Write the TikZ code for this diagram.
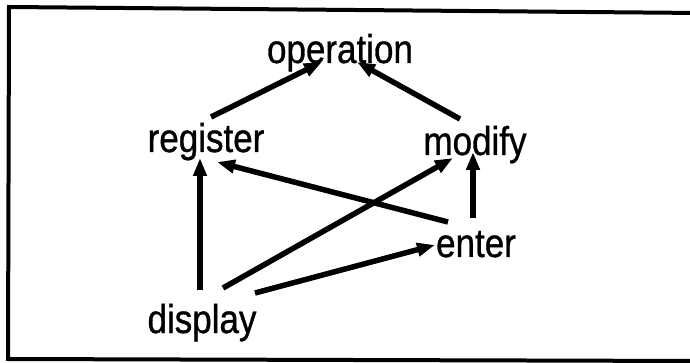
\documentclass[tikz,border=0pt]{standalone}
\usepackage{fontspec}
\setmainfont{Liberation Sans}
\newfontfamily\lblfont[FakeBold=0.9]{Liberation Sans}
\usetikzlibrary{arrows.meta,calc}
\begin{document}
\begin{tikzpicture}[x=1pt,y=-1pt,
  lbl/.style={anchor=base,inner sep=0pt,font=\lblfont\fontsize{35}{40}\selectfont},
  conn/.style={line width=5.5pt,-{Triangle[length=18pt,width=13pt]}},
  frame/.style={line width=4pt}]
\useasboundingbox (0,0) rectangle (690,363);
\clip (0,0) rectangle (690,363);
\draw[frame] (9,7) -- (700,13) -- (700,361) -- (8,359) -- cycle;
\node[lbl] (op)  at (340,63)  {\scalebox{1}[1.15]{operation}};
\node[lbl] (reg) at (206,152) {\scalebox{1}[1.15]{register}};
\node[lbl] (mod) at (475,155) {\scalebox{1}[1.15]{modify}};
\node[lbl] (ent) at (476,257) {\scalebox{1}[1.15]{enter}};
\node[lbl] (dis) at (202,333) {\scalebox{1}[1.15]{display}};
\draw[conn] ($(reg.base)+(5,-35)$) -- ($(op.base)+(-18,-1)$);
\draw[conn] ($(mod.base)+(-15,-36)$) -- ($(op.base)+(17,-1)$);
\draw[conn] ($(dis.base)+(-2,-43)$) -- ($(reg.base)+(-6,6)$);
\draw[conn] ($(ent.base)+(-28,-35)$) -- ($(reg.base)+(11,10)$);
\draw[conn] ($(dis.base)+(21,-45)$) -- ($(mod.base)+(-22,3)$);
\draw[conn] ($(ent.base)+(-3,-39)$) -- ($(mod.base)+(-2,-3)$);
\draw[conn] ($(dis.base)+(53,-40)$) -- ($(ent.base)+(-41,-12)$);
\end{tikzpicture}
\end{document}
